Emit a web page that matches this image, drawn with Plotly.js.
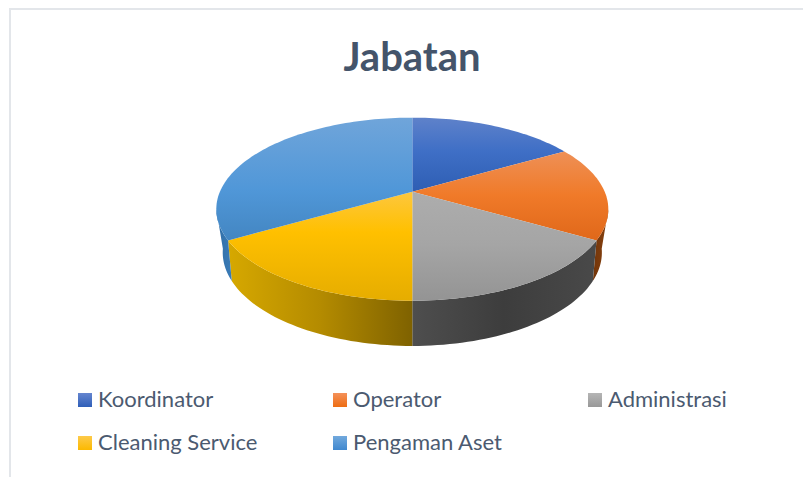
<!DOCTYPE html>
<html><head><meta charset="utf-8">
<script src="https://cdn.plot.ly/plotly-3.0.1.min.js"></script>
<style>html,body{margin:0;padding:0;background:#fff}#c{width:803px;height:477px}</style>
</head><body><div id="c"></div>
<script>
// Data
const categories = ["Koordinator","Operator","Administrasi","Cleaning Service","Pengaman Aset"];
const values = [1,1,1,1,2];
// Styles: top-face gradient stops (top to bottom of picture)
const topColors = [
  ["#5f82ca","#3f6fc6","#2e5eb3"],
  ["#ee9158","#f07a29","#e0681a"],
  ["#adadad","#a5a5a5","#949494"],
  ["#fdc73f","#ffc000","#e6ad00"],
  ["#70a5da","#5097d8","#4386c2"]
];
const topStops = [[117,151,192],[150,195,240],[191,245,300],[191,232,300],[117,190,240]];
const wallColors = [
  ["#6d3208","#8c4410"],
  ["#4e4e4e","#3d3d3d","#494949"],
  ["#d6a800","#b48b00","#7f6200"],
  null,
  ["#2f6ca4","#3b7db9"]
];
// Projection of the tilted disc (top ring and bottom ring)
const CX = 412.3;
const topRing = {y:191.7, a:192.4, b:88.2, p:0.191};
const botRing = {y:231, a:184.5, b:88.5, p:0.23};
function pt(r, deg){
  const t = deg*Math.PI/180, u = Math.sin(t), v = -Math.cos(t), d = 1 - r.p*v;
  return [CX + u*r.a/d, r.y + v*r.b/d];
}
function arc(r, from, to){
  const n = Math.max(2, Math.ceil(Math.abs(to-from)/1.5)), out = [];
  for(let i=0;i<=n;i++) out.push(pt(r, from+(to-from)*i/n));
  return out;
}
const total = values.reduce((a,b)=>a+b,0);
let acc = 0;
const spans = values.map(v=>{const s=acc; acc+=v; return [s/total*360, acc/total*360];});

function scale(cols){return cols.map((c,i)=>[i/(cols.length-1),c]);}
function poly(points, grad, name){
  return {type:'scatter', mode:'none', x:points.map(p=>p[0]).concat(points[0][0]),
    y:points.map(p=>p[1]).concat(points[0][1]), fill:'toself', fillgradient:grad,
    hoverinfo:'skip', showlegend:false, name:name};
}
const traces = [];
// Visible side walls: the angular part of each slice that faces the viewer
const wallSpans = [[101,spans[1][1]],[spans[2][0],spans[2][1]],[spans[3][0],spans[3][1]],null,[spans[3][1],259]];
const wallOwners = [1,2,3,null,4];
const wallX = [[590,610],[412,596],[229,412],null,[215,233]];
wallSpans.forEach((w,i)=>{
  if(!w) return;
  const pts = arc(topRing,w[0],w[1]).concat(arc(botRing,w[1],w[0]));
  traces.push(poly(pts,{type:'horizontal',colorscale:scale(wallColors[i]),start:wallX[i][0],stop:wallX[i][1]},categories[wallOwners[i]]+' sisi'));
});
// Top faces
spans.forEach((s,i)=>{
  const pts = [[CX,topRing.y]].concat(arc(topRing,s[0],s[1]));
  const st = topStops[i];
  const sc = [[0,topColors[i][0]],[(st[1]-st[0])/(st[2]-st[0]),topColors[i][1]],[1,topColors[i][2]]];
  traces.push(poly(pts,{type:'vertical',colorscale:sc,start:st[0],stop:st[2]},categories[i]));
});
// Legend
const legendX = [85,340,595,85,340], legendY = [400,400,400,443,443];
const legendGrad = [["#6585cf","#2f5fb8"],["#f4915a","#ee6d12"],["#b5b5b5","#989898"],["#fdca4a","#fcb900"],["#72a9dd","#4088cf"]];
categories.forEach((c,i)=>{
  traces.push({type:'scatter',mode:'markers',x:[legendX[i]],y:[legendY[i]],
    marker:{symbol:'square',size:14,color:legendGrad[i][0],gradient:{type:'vertical',color:legendGrad[i][1]},line:{width:0}},
    hoverinfo:'skip',showlegend:false,name:c});
  traces.push({type:'scatter',mode:'text',x:[legendX[i]+13],y:[legendY[i]+1.5],text:[c],textposition:'middle right',
    textfont:{family:'Lato, Carlito, sans-serif',size:22,color:'#4b5a70'},
    hoverinfo:'skip',showlegend:false,name:c});
});
const layout = {
  width:803,height:477,margin:{l:0,r:0,t:0,b:0},paper_bgcolor:'#fff',plot_bgcolor:'#fff',showlegend:false,
  title:{text:'<b>Jabatan</b>',x:412/803,xanchor:'center',y:1-57/477,yanchor:'middle',font:{family:'Lato, Carlito, sans-serif',size:40,color:'#44546a'}},
  xaxis:{range:[0,803],visible:false,fixedrange:true},
  yaxis:{range:[477,0],visible:false,fixedrange:true},
  shapes:[
    {type:'line',xref:'x',yref:'y',x0:9,x1:803,y0:9,y1:9,line:{color:'#e3e6ea',width:2},layer:'below'},
    {type:'line',xref:'x',yref:'y',x0:10,x1:10,y0:9,y1:477,line:{color:'#e3e6ea',width:2},layer:'below'}
  ]
};
Plotly.newPlot('c',traces,layout,{displayModeBar:false,staticPlot:true});
</script></body></html>
